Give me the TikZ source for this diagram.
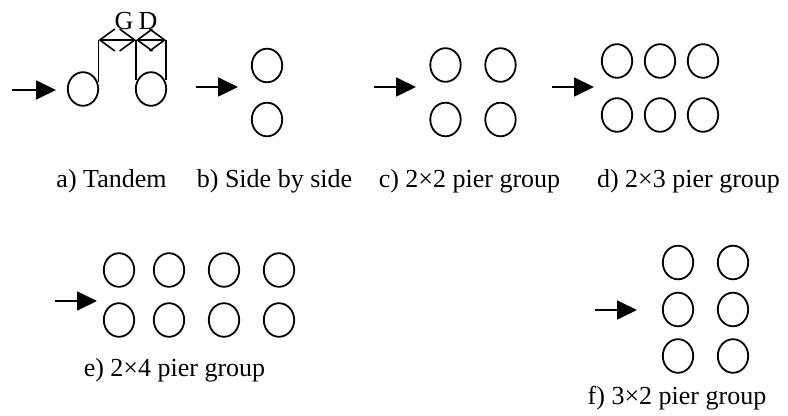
\documentclass[tikz,border=0pt]{standalone}
\usepackage{fontspec}
\setmainfont{Liberation Serif}
\usetikzlibrary{positioning,shapes.geometric,arrows.meta}

\begin{document}
\begin{tikzpicture}[x=0.5pt, y=-0.5pt, line width=0.9pt, p/.style={ellipse, draw, inner sep=0pt, minimum width=15.2pt, minimum height=16.8pt}, f/.style={-{Triangle[length=10pt, width=9.5pt]}}, dim/.style={line width=0.8pt, {Straight Barb[length=7.5pt, width=11pt]}-{Straight Barb[length=7.5pt, width=11pt]}}, l/.style={font=\fontsize{13}{15}\selectfont}]
		\useasboundingbox (0,0) rectangle (788,416);

		% a) tandem
		\node[p] (A1) at (83,89) {};
		\node[p] (A2) at (151,89) {};
		\coordinate (A_in) at (12,90);
		\coordinate (A_to) at (56,90);
		\draw[f] (A_in) -- (A_to);
		\coordinate (A_b1) at (98.5,82);
		\coordinate (A_b2) at (136,80);
		\coordinate (A_b3) at (166,80);
		\coordinate (A_d1) at (98.5,40);
		\coordinate (A_d2) at (136,40);
		\coordinate (A_d3) at (166,40);
		\draw (A_b1) -- (A_d1);
		\draw (A_b2) -- (A_d2);
		\draw (A_b3) -- (A_d3);
		\draw[dim] (A_d1) -- (A_d2);
		\draw[dim] (A_d2) -- (A_d3);
		\node[l] (G) at (124,21) {G};
		\node[l] (D) at (148,21) {D};
		\node[l, anchor=base] (A_label) at (111.5,188) {a) Tandem};

		% b) side by side
		\node[p] (B1) at (267,65.5) {};
		\node[p] (B2) at (267,119.5) {};
		\coordinate (B_in) at (196,87);
		\coordinate (B_to) at (238,87);
		\draw[f] (B_in) -- (B_to);
		\node[l, anchor=base] (B_label) at (274.5,188) {b) Side by side};

		% c) 2x2
		\foreach \i/\x in {1/445.5, 2/500.5} {
			\node[p] (C1\i) at (\x,65) {};
			\node[p] (C2\i) at (\x,119.5) {};
		}
		\coordinate (C_in) at (374,87);
		\coordinate (C_to) at (416,87);
		\draw[f] (C_in) -- (C_to);
		\node[l, anchor=base] (C_label) at (469.5,188) {c) 2×2 pier group};

		% d) 2x3
		\foreach \i/\x in {1/617, 2/660, 3/703} {
			\node[p] (D1\i) at (\x,61) {};
			\node[p] (D2\i) at (\x,115) {};
		}
		\coordinate (D_in) at (552,87);
		\coordinate (D_to) at (594,87);
		\draw[f] (D_in) -- (D_to);
		\node[l, anchor=base] (D_label) at (688.5,188) {d) 2×3 pier group};

		% e) 2x4
		\foreach \i/\x in {1/119, 2/169, 3/224, 4/279} {
			\node[p] (E1\i) at (\x,270) {};
			\node[p] (E2\i) at (\x,320) {};
		}
		\coordinate (E_in) at (55,301);
		\coordinate (E_to) at (97,301);
		\draw[f] (E_in) -- (E_to);
		\node[l, anchor=base] (E_label) at (174.5,377) {e) 2×4 pier group};

		% f) 3x2
		\foreach \i/\x in {1/678, 2/733} {
			\node[p] (F1\i) at (\x,262.5) {};
			\node[p] (F2\i) at (\x,309.5) {};
			\node[p] (F3\i) at (\x,356) {};
		}
		\coordinate (F_in) at (595,310);
		\coordinate (F_to) at (637,310);
		\draw[f] (F_in) -- (F_to);
		\node[l, anchor=base] (F_label) at (677,405) {f) 3×2 pier group};
	\end{tikzpicture}
\end{document}
